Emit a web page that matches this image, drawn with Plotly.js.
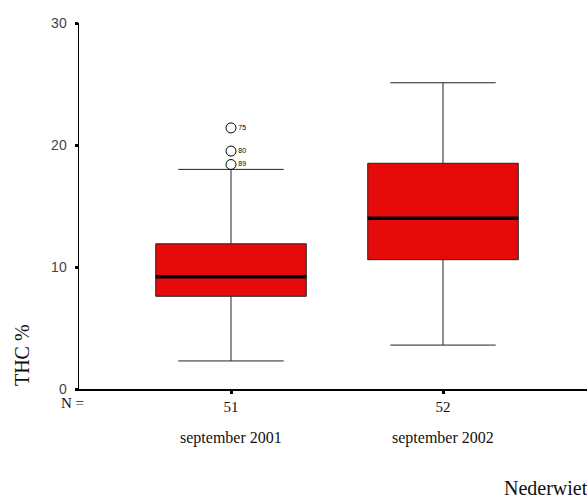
<!DOCTYPE html>
<html>
<head>
<meta charset="utf-8">
<script src="https://cdn.plot.ly/plotly-3.0.1.min.js"></script>
<style>
html,body{margin:0;padding:0;overflow:hidden;background:#fff;}
#chart{width:587px;height:497px;}
</style>
</head>
<body>
<div id="chart"></div>
<script>
// ---- data ----
const categories = ["september 2001", "september 2002"];
const nLabels = ["51", "52"];
const q1Values = [7.6, 10.6];
const medianValues = [9.2, 14.0];
const q3Values = [11.9, 18.5];
const lowerWhisker = [2.3, 3.6];
const upperWhisker = [18.0, 25.1];
const outlierGroup = [0, 0, 0];
const outlierValues = [21.4, 19.5, 18.4];
const outlierLabels = ["75", "80", "89"];
const yTickVals = [0, 10, 20, 30];
const yTitle = "THC %";
const footerText = "Nederwiet";

// ---- styles ----
const boxWidth = 0.71;
const catIdx = categories.map((c, i) => i);

const boxTrace = {
  type: "box",
  x: catIdx,
  q1: q1Values,
  median: medianValues,
  q3: q3Values,
  lowerfence: lowerWhisker,
  upperfence: upperWhisker,
  boxpoints: false,
  width: boxWidth,
  whiskerwidth: 0.7,
  fillcolor: "rgb(230,10,10)",
  line: { color: "#222", width: 1 },
  hoverinfo: "skip",
  showlegend: false
};

const medX = [], medY = [];
catIdx.forEach((i) => {
  medX.push(i - boxWidth / 2, i + boxWidth / 2, null);
  medY.push(medianValues[i], medianValues[i], null);
});
const medianTrace = {
  type: "scatter",
  mode: "lines",
  x: medX,
  y: medY,
  line: { color: "#000", width: 3.5 },
  hoverinfo: "skip",
  showlegend: false
};

const outlierTrace = {
  type: "scatter",
  mode: "markers+text",
  x: outlierGroup,
  y: outlierValues,
  text: outlierLabels,
  textposition: "middle right",
  textfont: { family: "Liberation Sans, Arial, sans-serif", size: 7, color: "#000" },
  marker: { symbol: "circle-open", size: 10, color: "#000", line: { width: 1, color: "#000" } },
  hoverinfo: "skip",
  showlegend: false
};

const plotTop = 22.5, plotBottom = 389, plotLeft = 79, W = 587;
const plotH = plotBottom - plotTop, plotW = W - plotLeft;
const px2x = (px) => (px - plotLeft) / plotW;
const px2y = (py) => (plotBottom - py) / plotH;

const annotations = categories.map((c, i) => ({
  text: c, x: i, xref: "x", y: px2y(438), yref: "paper",
  xanchor: "center", yanchor: "middle", showarrow: false,
  font: { family: "Liberation Serif, Times New Roman, serif", size: 16, color: "#111" }
}));
annotations.push({
  text: "N =", x: px2x(86), xref: "paper", y: px2y(403), yref: "paper",
  xanchor: "right", yanchor: "middle", showarrow: false,
  font: { family: "Liberation Serif, Times New Roman, serif", size: 15, color: "#111" }
});
annotations.push({
  text: yTitle, x: px2x(22), xref: "paper", y: px2y(355), yref: "paper",
  xanchor: "center", yanchor: "middle", textangle: -90, showarrow: false,
  font: { family: "Liberation Serif, Times New Roman, serif", size: 20, color: "#111" }
});
annotations.push({
  text: footerText, x: px2x(502), xref: "paper", y: px2y(488), yref: "paper",
  xanchor: "left", yanchor: "middle", showarrow: false,
  font: { family: "Liberation Serif, Times New Roman, serif", size: 20, color: "#111" }
});

const layout = {
  width: W,
  height: 497,
  margin: { l: plotLeft, r: 0, t: plotTop, b: 497 - plotBottom, pad: 0 },
  paper_bgcolor: "#fff",
  plot_bgcolor: "#fff",
  showlegend: false,
  hovermode: false,
  xaxis: {
    range: [-(231 - plotLeft) / 212, -(231 - plotLeft) / 212 + plotW / 212],
    tickvals: catIdx,
    ticktext: nLabels,
    ticks: "outside",
    ticklen: 3,
    tickwidth: 3,
    tickcolor: "#000",
    showline: true,
    linecolor: "#000",
    linewidth: 1.5,
    showgrid: false,
    zeroline: false,
    tickfont: { family: "Liberation Serif, Times New Roman, serif", size: 15, color: "#111" }
  },
  yaxis: {
    range: [0, 30],
    tickvals: yTickVals,
    ticks: "outside",
    ticklen: 3,
    tickwidth: 3,
    tickcolor: "#000",
    showline: true,
    linecolor: "#000",
    linewidth: 1.5,
    showgrid: false,
    zeroline: false,
    tickfont: { family: "Liberation Sans, Arial, sans-serif", size: 14, color: "#444" },
    ticklabelstandoff: 5
  },
  annotations: annotations
};

Plotly.newPlot("chart", [boxTrace, medianTrace, outlierTrace], layout, { displayModeBar: false, staticPlot: true });
</script>
</body>
</html>
